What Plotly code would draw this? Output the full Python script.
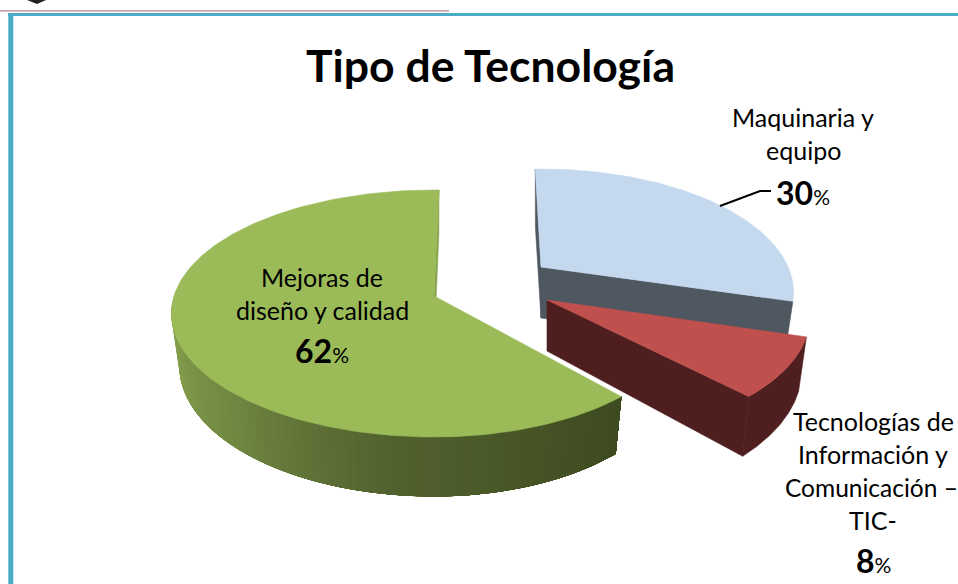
import math
import plotly.graph_objects as go

categories = ["Mejoras de diseño y calidad", "Maquinaria y equipo", "Tecnologías de Información y Comunicación – TIC-"]
values = [62, 30, 8]
colors_top = ["#9bbb59", "#c4d8ee", "#c0504d"]
colors_wall = ["#6d8240", "#4f5761", "#4e1f1e"]
title_text = "Tipo de Tecnología"

# Drawing geometry: a perspective projection of the pie, in screen pixels
W, H = 958, 584
KP = 0.1417        # perspective strength
RY = 121           # vertical radius
DEPTH = 51         # wall height
XB = 0.97          # horizontal scale of bottom rim
YB = {0: 1.06, 1: 0.93, 2: 1.09}  # vertical scale of bottom rim
apex = {0: (434, 296), 1: (541, 267), 2: (547, 300)}
rx_left = {0: 260, 1: 250, 2: 260}
rx_right = {0: 251, 1: 250, 2: 260}
rot = {0: 1.3, 1: -1.5, 2: -1.0}
squeeze = {0: 1.0, 1: 0.96, 2: 1.0}
rim_dy = {0: 0, 1: 8, 2: 0}

# angular extent of each slice, clockwise from north, from the values
total = sum(values)
sweeps = [v / total * 360 for v in values]
ang = {1: (0, sweeps[1]), 2: (sweeps[1], sweeps[1] + sweeps[2]), 0: (sweeps[1] + sweeps[2], 360)}


def pt(i, deg, bottom=False):
    th = math.radians(deg * squeeze[i] + rot[i])
    X, Y = math.sin(th), math.cos(th)
    d = 1 + KP * Y
    rx = rx_right[i] if X > 0 else rx_left[i]
    ax, ay = apex[i]
    x = rx * X / d
    y = -RY * Y / d
    if bottom:
        return ax + x * XB, ay + DEPTH + rim_dy[i] + y * YB[i]
    return ax + x, ay + rim_dy[i] + y


def arc(i, a0, a1, bottom=False, n=90):
    return [pt(i, a0 + (a1 - a0) * k / n, bottom) for k in range(n + 1)]


fig = go.Figure()


def poly(points, color, lw=0.6):
    xs = [p[0] for p in points] + [points[0][0]]
    ys = [p[1] for p in points] + [points[0][1]]
    fig.add_trace(go.Scatter(x=xs, y=ys, mode="lines", fill="toself", fillcolor=color,
                             line=dict(color=color, width=lw), hoverinfo="skip", showlegend=False))


def mix(stops, t):
    for (t0, c0), (t1, c1) in zip(stops, stops[1:]):
        if t <= t1:
            f = (t - t0) / (t1 - t0)
            rgb = [round(c0[j] + (c1[j] - c0[j]) * f) for j in range(3)]
            return "rgb(%d,%d,%d)" % tuple(rgb)
    return "rgb(%d,%d,%d)" % tuple(stops[-1][1])


# green wall shading, left (0) to right (1)
shade = [(0.0, (141, 170, 82)), (0.35, (112, 135, 66)), (0.62, (82, 98, 46)), (1.0, (62, 74, 32))]

# Green slice
g0, g1 = ang[0]
poly([pt(0, g1), pt(0, g1, True), (apex[0][0], apex[0][1] + DEPTH), apex[0]], "#86a34e")
NSEG = 70
a_left = 270.0
a_start = g0
for k in range(NSEG):
    a0 = a_left + (a_start - a_left) * k / NSEG
    # every band reaches the far end; the next band paints over it, so no seams show
    poly(arc(0, a0, a_start, False, 60) + arc(0, a_start, a0, True, 60), mix(shade, k / (NSEG - 1)), 0)
poly([apex[0]] + arc(0, g0, g1, False, 180), colors_top[0])

# Blue slice
b0, b1 = ang[1]
poly([pt(1, b0), pt(1, b0, True), (apex[1][0], apex[1][1] + DEPTH), apex[1]], colors_wall[1])
poly([apex[1], pt(1, b1), pt(1, b1, True), (apex[1][0], apex[1][1] + DEPTH)], colors_wall[1])
poly([apex[1]] + arc(1, b0, b1), colors_top[1])

# Red slice
r0, r1 = ang[2]
poly(arc(2, r0, r1) + arc(2, r1, r0, True), colors_wall[2])
poly([apex[2], pt(2, r1), pt(2, r1, True), (apex[2][0], apex[2][1] + DEPTH)], colors_wall[2])
poly([apex[2]] + arc(2, r0, r1, False, 40), colors_top[2])

# Leader line for the blue slice
fig.add_trace(go.Scatter(x=[720, 760, 771], y=[206, 191, 191], mode="lines",
                         line=dict(color="black", width=2), hoverinfo="skip", showlegend=False))

FONT = "Lato, 'Open Sans', sans-serif"


def label(x, y, text, size=25):
    fig.add_annotation(x=x, y=y, text=text, showarrow=False, xanchor="center", yanchor="middle",
                       font=dict(family=FONT, size=size, color="black"))


def pct(v):
    return "<b><span style='font-size:32px'>%d</span></b><span style='font-size:21px'>%%</span>" % v


label(490, 64, "<b>%s</b>" % title_text, 44.5)
label(322, 277, "Mejoras de")
label(322, 310, "diseño y calidad")
label(322, 350, pct(values[0]))
label(803, 117, "Maquinaria y")
label(803, 150, "equipo")
label(803, 192, pct(values[1]))
label(873, 421, "Tecnologías de")
label(873, 454, "Información y")
label(871, 487, "Comunicación –", 24.5)
label(873, 520, "TIC-")
label(873, 560, pct(values[2]))

fig.update_layout(
    width=W, height=H, autosize=False, margin=dict(l=0, r=0, t=0, b=0),
    paper_bgcolor="white", plot_bgcolor="white", showlegend=False,
    xaxis=dict(range=[0, W], visible=False, fixedrange=True),
    yaxis=dict(range=[H, 0], visible=False, fixedrange=True),
    shapes=[
        dict(type="rect", xref="paper", yref="paper", x0=0, x1=449 / W, y0=1 - 10.3 / H, y1=1 - 11.6 / H,
             fillcolor="#b5838a", line_width=0),
        dict(type="rect", xref="paper", yref="paper", x0=8.3 / W, x1=1, y0=1 - 13 / H, y1=1 - 16 / H,
             fillcolor="#4bacc6", line_width=0),
        dict(type="rect", xref="paper", yref="paper", x0=8.3 / W, x1=13.3 / W, y0=1 - 13 / H, y1=0,
             fillcolor="#4bacc6", line_width=0),
        dict(type="path", xref="paper", yref="paper",
             path="M %f %f L %f %f L %f %f Z" % (27 / W, 1, 46 / W, 1, 37 / W, 1 - 4 / H),
             fillcolor="#222222", line_width=0),
    ],
)

fig.write_html("out.html", config=dict(displayModeBar=False),
               post_script="document.body.style.margin='0';document.body.style.overflow='hidden';")
